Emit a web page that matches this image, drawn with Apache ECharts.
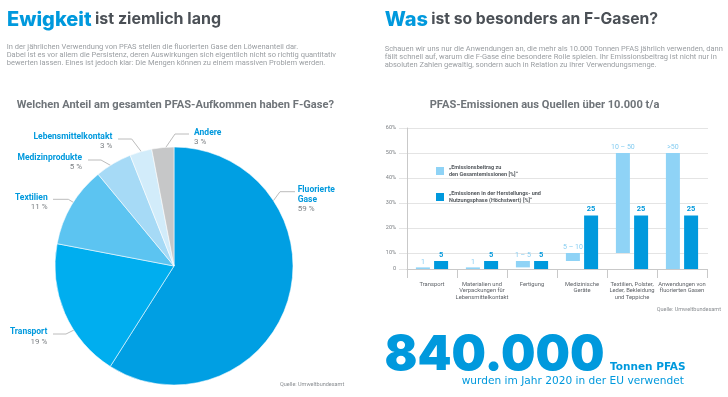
<!DOCTYPE html>
<html><head><meta charset="utf-8">
<script src="https://cdn.jsdelivr.net/npm/echarts@6/dist/echarts.min.js"></script>
<style>html,body{margin:0;padding:0;background:#fff}#c{width:728px;height:397px}</style>
</head><body><div id="c"></div><script>
// ---- data ----
const pieCategories = ['Fluorierte Gase', 'Transport', 'Textilien', 'Medizinprodukte', 'Lebensmittelkontakt', 'Andere'];
const pieLabelNames = ['Fluorierte\nGase', 'Transport', 'Textilien', 'Medizinprodukte', 'Lebensmittelkontakt', 'Andere'];
const pieValues = [59, 19, 11, 5, 3, 3];

const barCategories = ['Transport', 'Materialien und\nVerpackungen für\nLebensmittelkontakt', 'Fertigung', 'Medizinische\nGeräte', 'Textilien, Polster,\nLeder, Bekleidung\nund Teppiche', 'Anwendungen von\nfluorierten Gasen'];
const shareLow = [0, 0, 1, 5, 10, 0];
const shareHigh = [1, 1, 5, 10, 50, 50];
const shareLabels = ['1', '1', '1 – 5', '5 – 10', '10 – 50', '>50'];
const phaseValues = [5, 5, 5, 25, 25, 25];
const yTickValues = [0, 10, 20, 30, 40, 50, 60];
const yTickLabels = ['0', '10%', '20%', '30%', '40%', '50%', '60%'];

const shareName = '„Emissionsbeitrag zu\nden Gesamtemissionen [%]“';
const phaseName = '„Emissionen in der Herstellungs- und\nNutzungsphase (Höchstwert) [%]“';

// ---- styles / layout ----
const pieColors = ['#009fe3', '#00aeef', '#5cc4f1', '#a6daf6', '#d2ecfa', '#c6c7c8'];
const pieLabelLayout = [
  { x: 297.7, y: 185, align: 'left', pts: [[268, 208], [280, 191.7], [295, 191.7]] },
  { x: 47.3, y: 327.5, align: 'right', pts: [[80, 327], [66, 334], [53, 334]] },
  { x: 47.7, y: 193, align: 'right', pts: [[81, 207], [68.3, 199.3], [53, 199.3]] },
  { x: 82, y: 153, align: 'right', pts: [[115.7, 168.3], [101, 160], [88, 160]] },
  { x: 112.3, y: 131.8, align: 'right', pts: [[143.3, 154.3], [131.7, 139], [118, 139]] },
  { x: 194, y: 127.6, align: 'left', pts: [[164, 150], [175, 134], [189, 134]] }
];
// piecewise vertical scale of the reference chart (0–10 % compressed)
const yScale = v => v <= 10 ? v * 0.64 : 6.4 + (v - 10);
const yMax = yScale(60);

const BLUE = '#0099dd';
const SANS = 'Roboto, "Liberation Sans", sans-serif';
const WIDE = '"DejaVu Sans", Roboto, sans-serif';
const HEAD = 'Inter, Roboto, sans-serif';

const chart = echarts.init(document.getElementById('c'), null, { renderer: 'canvas' });

function txt(x, y, text, font, fill, extra) {
  return Object.assign({ type: 'text', x: x, y: y, silent: true,
    style: Object.assign({ text: text, font: font, fill: fill, verticalAlign: 'middle', align: 'left' }, extra || {}) });
}

const option = {
  animation: false,
  backgroundColor: '#ffffff',
  graphic: { elements: [
    { type: 'text', x: 7, y: 19.5, silent: true, style: {
      text: '{a|Ewigkeit} {b|ist ziemlich lang}', verticalAlign: 'middle',
      rich: { a: { font: '800 20px ' + HEAD, fill: BLUE }, b: { font: '700 16px ' + HEAD, fill: '#4b5056' } } } },
    { type: 'text', x: 384.7, y: 19.5, silent: true, style: {
      text: '{a|Was} {b|ist so besonders an F-Gasen?}', verticalAlign: 'middle',
      rich: { a: { font: '800 20px ' + HEAD, fill: BLUE }, b: { font: '700 15.7px ' + HEAD, fill: '#4b5056' } } } },
    txt(6.7, 43, 'In der jährlichen Verwendung von PFAS stellen die fluorierten Gase den Löwenanteil dar.\nDabei ist es vor allem die Persistenz, deren Auswirkungen sich eigentlich nicht so richtig quantitativ\nbewerten lassen. Eines ist jedoch klar: Die Mengen können zu einem massiven Problem werden.',
      '400 7.5px ' + SANS, '#9a9ea2', { verticalAlign: 'top', lineHeight: 8 }),
    txt(384.7, 44.8, 'Schauen wir uns nur die Anwendungen an, die mehr als 10.000 Tonnen PFAS jährlich verwenden, dann\nfällt schnell auf, warum die F-Gase eine besondere Rolle spielen. Ihr Emissionsbeitrag ist nicht nur in\nabsoluten Zahlen gewaltig, sondern auch in Relation zu ihrer Verwendungsmenge.',
      '400 7.5px ' + SANS, '#9a9ea2', { verticalAlign: 'top', lineHeight: 8 }),
    txt(16.7, 105.3, 'Welchen Anteil am gesamten PFAS-Aufkommen haben F-Gase?', '700 11.1px ' + SANS, '#6f7479'),
    txt(429.7, 105.3, 'PFAS-Emissionen aus Quellen über 10.000 t/a', '700 11.1px ' + SANS, '#6f7479'),
    txt(280, 384.3, 'Quelle: Umweltbundesamt', '400 5.5px ' + SANS, '#8a8e92'),
    txt(656.7, 310, 'Quelle: Umweltbundesamt', '400 5.5px ' + SANS, '#8a8e92'),
    txt(384.5, 355.5, '840.000', '900 48.5px ' + HEAD, BLUE),
    txt(610, 367.7, 'Tonnen PFAS', '700 10.5px ' + WIDE, BLUE),
    txt(461.7, 381.7, 'wurden im Jahr 2020 in der EU verwendet', '400 10.6px ' + WIDE, BLUE)
  ] },
  legend: {
    data: [shareName, phaseName], orient: 'vertical', left: 431, top: 159,
    itemWidth: 8, itemHeight: 8, itemGap: 12, icon: 'rect', selectedMode: false,
    textStyle: { fontSize: 5.5, fontWeight: 'bold', color: '#555a5f', lineHeight: 7, fontFamily: SANS }
  },
  grid: [
    { left: 399, right: 20, top: 128, bottom: 128 },
    { left: 407, right: 21, top: 128, bottom: 128 }
  ],
  xAxis: [
    { type: 'value', gridIndex: 0, show: false, min: 0, max: 1 },
    { type: 'category', gridIndex: 1, data: barCategories,
      axisLine: { show: true, lineStyle: { color: '#c9c9c9', width: 1 } },
      axisTick: { show: true, length: 9, lineStyle: { color: '#c9c9c9' } },
      axisLabel: { interval: 0, fontSize: 5.8, lineHeight: 6.5, color: '#5f6368', margin: 12, fontFamily: SANS } }
  ],
  yAxis: [
    { type: 'value', gridIndex: 0, min: 0, max: yMax,
      axisLine: { show: false },
      axisTick: { show: false, customValues: yTickValues.map(yScale) },
      axisLabel: { customValues: yTickValues.map(yScale), fontSize: 5.5, color: '#7a7e82', margin: 3, fontFamily: SANS,
        formatter: v => { const i = yTickValues.findIndex(t => Math.abs(yScale(t) - v) < 1e-6); return i >= 0 ? yTickLabels[i] : ''; } },
      splitLine: { show: true, lineStyle: { color: '#e4e4e4', width: 1 } } },
    { type: 'value', gridIndex: 1, min: 0, max: yMax,
      axisLine: { show: true, lineStyle: { color: '#c9c9c9', width: 1 } },
      axisTick: { show: false }, axisLabel: { show: false }, splitLine: { show: false } }
  ],
  series: [
    { type: 'pie', center: [174, 266], radius: 119, startAngle: 90, clockwise: true,
      silent: true, avoidLabelOverlap: false,
      itemStyle: { borderColor: 'rgba(255,255,255,0.7)', borderWidth: 0.8 },
      labelLine: { show: true, lineStyle: { color: '#bcbcbc', width: 1 } },
      data: pieCategories.map((name, i) => ({
        name: name, value: pieValues[i], itemStyle: { color: pieColors[i] },
        label: {
          show: true, position: 'outside', align: pieLabelLayout[i].align,
          formatter: p => '{n|' + pieLabelNames[p.dataIndex] + '}\n{v|' + p.value + ' %}',
          rich: {
            n: { fontFamily: SANS, fontWeight: 'bold', fontSize: 8.5, color: BLUE, lineHeight: 9.6, align: pieLabelLayout[i].align },
            v: { fontFamily: SANS, fontSize: 8, color: '#7d8185', lineHeight: 9.6, align: pieLabelLayout[i].align }
          }
        }
      })),
      labelLayout: p => {
        const L = pieLabelLayout[p.dataIndex];
        return { x: L.x, y: L.y, align: L.align, verticalAlign: 'top', labelLinePoints: L.pts };
      }
    },
    { name: 'base', type: 'bar', xAxisIndex: 1, yAxisIndex: 1, stack: 'share', barWidth: 14, barGap: '30%',
      silent: true, itemStyle: { color: 'rgba(0,0,0,0)' }, data: shareLow.map(yScale) },
    { name: shareName, type: 'bar', xAxisIndex: 1, yAxisIndex: 1, stack: 'share', barWidth: 14, barGap: '30%',
      silent: true, itemStyle: { color: '#8fd3f6' },
      label: { show: true, position: 'top', distance: 2, fontSize: 7, color: '#86cdf1', fontFamily: SANS,
        formatter: p => shareLabels[p.dataIndex] },
      data: shareHigh.map((h, i) => yScale(h) - yScale(shareLow[i])) },
    { name: phaseName, type: 'bar', xAxisIndex: 1, yAxisIndex: 1, barWidth: 14, barGap: '30%',
      silent: true, itemStyle: { color: BLUE },
      label: { show: true, position: 'top', distance: 2, fontSize: 7.5, fontWeight: 'bold', color: BLUE, fontFamily: SANS,
        formatter: p => String(phaseValues[p.dataIndex]) },
      data: phaseValues.map(yScale) }
  ]
};
chart.setOption(option);
</script></body></html>
